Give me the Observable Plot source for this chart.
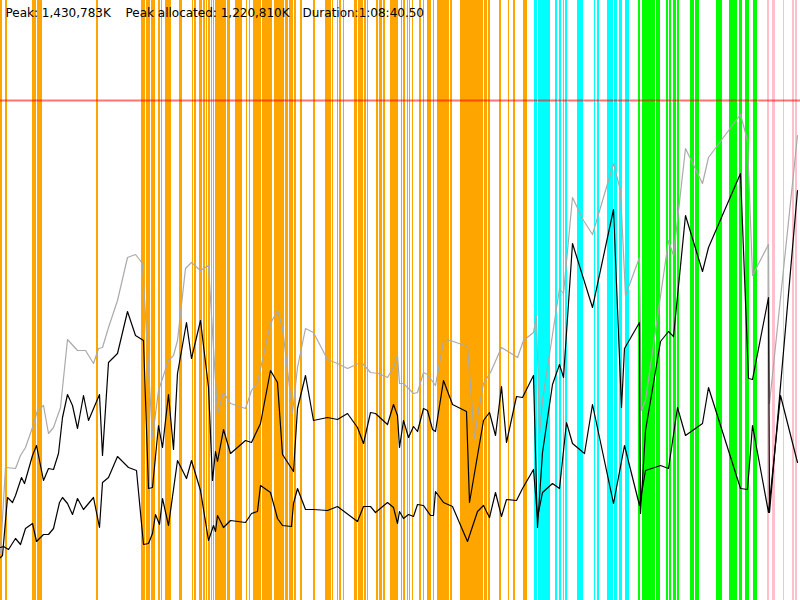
<!DOCTYPE html>
<html>
<head>
<meta charset="utf-8">
<script src="https://cdn.jsdelivr.net/npm/d3@7"></script>
<script src="https://cdn.jsdelivr.net/npm/@observablehq/plot@0.6"></script>
<style>
  html, body { margin: 0; padding: 0; background: #fff; }
  #chart { width: 800px; height: 600px; overflow: hidden; }
</style>
</head>
<body>
<div id="chart"></div>
<script>
// Event bands (time start, time end) per event kind
const orangeBands = [[0,2],[5,7],[32,36],[37,42],[96,98],
  [141,145],[146,150],[151,153],[153,155],[158,160],[161,162],[165,167],[167,171],[179,182],[192,193],[194,196],
  [199,202],[203,205],[206,207],[208,210],[211,212],[213,214],[215,226],[227,229],[229,230],[235,240],[240,242],[246,247],[249,250],[253,261],[262,272],
  [274,280],[280,284],[285,288],[289,293],[294,296],[300,302],[313,315],[325,331],[332,333],[337,338],[339,341],[343,344],[354,357],[358,363],[364,366],[367,368],[376,378],[379,382],[383,385],[390,398],
  [401,402],[403,405],[407,408],[409,410],[412,413],[419,421],[423,424],[427,429],[429,431],[433,434],[437,441],[441,443],[443,449],[450,452],[460,475],[475,477],[477,483],[484,487],[488,490],[499,501],[508,509],[513,515],[523,527]];
const cyanBands = [[534,537],[538,549],[549,550],[555,557],[559,561],[563,564],[565,567],[577,580],[580,583],[594,595],[597,599],[607,613],[614,617],[619,622],[625,629]];
const greenBands = [[638,640],[642,644],[644,647],[647,650],[650,653],[653,655],[656,658],[658,660],[666,668],[669,671],[673,676],[677,679],[690,694],[695,699],[716,722],[729,733],[733,736],[736,737],[739,742],[745,749],[753,757]];
const pinkBands = [[767,769],[772,775],[783,784],[792,794],[795,797]];

// Memory series: [time, value]
const grayPts = [[0,48],[5,133],[15,132],[20,145],[25,153],[32,173],[37,190],[43,195],[48,167],[53,173],[60,193],[67,261],[77,250],[85,250],[93,237],[98,252],[102,253],[108,273],[117,300],[127,343],[135,346],[142,337],[152,163],[158,210],[168,240],[173,245],[177,260],[185,332],[191,338],[200,330],[208,335],[217,187],[223,208],[230,197],[245,192],[251,210],[257,218],[270,277],[277,290],[282,273],[292,188],[297,233],[305,272],[313,268],[327,241],[337,237],[347,232],[358,237],[362,237],[370,228],[378,227],[387,223],[393,233],[397,245],[399,217],[403,217],[413,207],[417,208],[423,228],[427,226],[435,215],[443,259],[450,260],[467,254],[474,162],[478,190],[483,217],[490,228],[501,253],[517,243],[523,260],[533,268],[536,285],[539,167],[542,200],[559,312],[563,307],[572,403],[583,380],[592,366],[613,437],[620,410],[625,305],[639,343],[641,190],[645,200],[668,360],[673,345],[685,452],[702,417],[708,443],[740,486],[747,460],[752,325],[768,356],[769,197],[797,465]];
const upperPts = [[0,43],[2,45],[7,103],[12,98],[15,105],[21,123],[24,117],[32,145],[36,155],[43,120],[48,132],[53,131],[58,147],[62,183],[67,206],[72,195],[77,172],[83,205],[88,180],[99,206],[102,145],[108,238],[117,247],[127,289],[135,265],[143,260],[148,112],[152,113],[158,175],[162,153],[168,206],[173,151],[177,227],[186,278],[191,242],[200,280],[208,213],[212,120],[215,149],[217,139],[223,171],[230,147],[245,160],[251,158],[260,177],[270,230],[277,218],[282,146],[293,129],[297,192],[305,225],[313,180],[327,183],[337,181],[347,187],[357,173],[363,157],[370,188],[375,187],[387,176],[393,196],[397,185],[399,153],[403,180],[408,163],[413,174],[417,169],[423,192],[427,190],[432,171],[435,169],[443,220],[452,196],[466,189],[469,98],[483,180],[489,188],[495,165],[501,214],[506,158],[516,204],[522,203],[533,225],[537,73],[542,148],[552,216],[559,236],[563,223],[572,357],[592,293],[613,391],[621,193],[624,252],[639,278],[640,87],[645,170],[660,259],[668,269],[673,264],[685,385],[702,329],[708,353],[740,427],[748,222],[752,221],[768,303],[769,88],[797,410]];
const lowerPts = [[0,53],[3,54],[8,51],[15,62],[20,56],[25,72],[32,77],[36,59],[43,66],[48,66],[53,72],[59,98],[62,103],[67,97],[72,86],[77,102],[83,91],[93,103],[99,73],[102,118],[108,123],[117,144],[128,133],[136,130],[143,56],[148,57],[152,67],[155,86],[159,76],[162,102],[168,75],[177,140],[186,122],[191,140],[200,110],[208,60],[213,75],[215,69],[217,85],[223,73],[230,80],[245,78],[251,87],[257,89],[260,115],[270,108],[277,82],[282,75],[291,74],[293,97],[297,112],[305,91],[313,91],[327,90],[337,94],[357,79],[363,94],[370,94],[375,88],[387,98],[393,93],[397,77],[399,89],[403,82],[408,86],[413,84],[417,96],[423,95],[430,85],[433,85],[435,109],[443,98],[452,94],[467,59],[477,89],[483,95],[489,83],[495,108],[501,84],[506,101],[516,100],[522,112],[533,131],[537,83],[542,108],[552,117],[559,112],[566,178],[572,157],[584,147],[592,196],[613,97],[624,155],[639,95],[645,130],[660,135],[668,132],[677,193],[685,165],[702,177],[708,213],[740,112],[747,111],[752,175],[768,88],[780,205],[797,138]];
const limitValue = [500];
const labels = ["Peak: 1,430,783K", "Peak allocated: 1,220,810K", "Duration:1:08:40.50"];
const labelOffsets = [5, 125, 302];

const bandMark = (bands, color) => Plot.rect(bands, {x1: d => d[0], x2: d => d[1], fill: color});
const lineMark = (pts, color) => Plot.line(pts, {x: d => d[0], y: d => d[1], stroke: color, strokeWidth: 1.2});

const chart = Plot.plot({
  width: 800,
  height: 600,
  margin: 0,
  x: {domain: [0, 800], axis: null},
  y: {domain: [0, 600], axis: null},
  style: {background: "#fff", fontFamily: "DejaVu Sans, sans-serif"},
  marks: [
    bandMark(orangeBands, "#FFA500"),
    bandMark(cyanBands, "#00FFFF"),
    bandMark(greenBands, "#00FF00"),
    bandMark(pinkBands, "#FFC0CB"),
    Plot.ruleY(limitValue, {stroke: "red", strokeOpacity: 0.55, strokeWidth: 2}),
    lineMark(grayPts, "#aaaaaa"),
    lineMark(upperPts, "#000000"),
    lineMark(lowerPts, "#000000"),
    ...labels.map((t, i) => Plot.text([t], {frameAnchor: "top-left", dx: labelOffsets[i], dy: 8, fontSize: 12, fill: "#000", textAnchor: "start"}))
  ]
});
document.getElementById("chart").appendChild(chart);
</script>
</body>
</html>
